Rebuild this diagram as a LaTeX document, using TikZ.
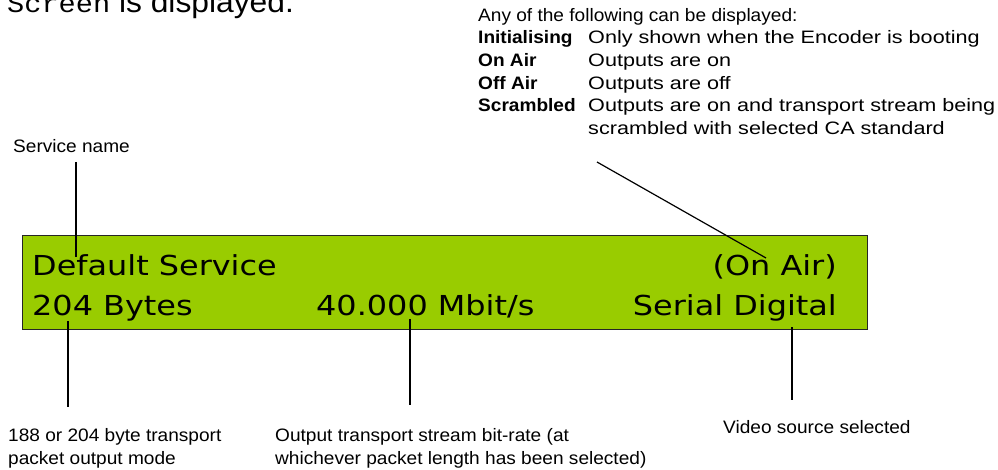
\documentclass[tikz,border=0pt]{standalone}
\usepackage{fontspec}
\setmainfont{Liberation Sans}[FakeStretch=1.06]
\newfontfamily\statefont{Liberation Sans}[FakeStretch=1.2]
\newfontfamily\lcdfont{DejaVu Sans}[FakeStretch=1.16]
\newfontfamily\codefont{Liberation Mono}[FakeStretch=1.1]
\usepackage{array}
\usepackage{xcolor}
\usepackage{tikz}
\usetikzlibrary{positioning}
\definecolor{lcdgreen}{RGB}{153,204,0}

\begin{document}
\begin{tikzpicture}[
  x=1pt, y=-1pt,
  font=\fontsize{18}{22.6}\selectfont,
  note/.style={inner sep=0pt, align=left, anchor=base west},
  screen/.style={draw=black!85, line width=1.2pt, fill=lcdgreen, inner sep=0pt,
                 minimum width=845pt, minimum height=94pt, anchor=north west},
  readout/.style={inner sep=0pt, font=\lcdfont\fontsize{27.5}{33}\selectfont},
  lead/.style={line width=1.2pt},
]
\useasboundingbox (0,0) rectangle (998,470);
\clip (0,0) rectangle (998,470);

\node[note, font=\fontsize{30}{34}\selectfont] (intro) at (7,13)
  {{\codefont\fontsize{26}{30}\selectfont Screen} is displayed.};

\node[note, anchor=north west] (states) at (478,5.2)
  {\begin{tabular}{@{}p{110pt}@{}>{\statefont}l@{}}
   \multicolumn{2}{@{}l@{}}{Any of the following can be displayed:}\\
   \textbf{Initialising} & Only shown when the Encoder is booting\\
   \textbf{On Air}       & Outputs are on\\
   \textbf{Off Air}      & Outputs are off\\
   \textbf{Scrambled}    & Outputs are on and transport stream being\\
                         & scrambled with selected CA standard
   \end{tabular}};

\node[note] (svcName) at (13,153) {Service name};

\node[screen] (lcd) at (22,235) {};
\node[readout, anchor=base west] (svcText)   at (32,276)  {Default Service};
\node[readout, anchor=base east] (airText)   at (837,276) {(On Air)};
\node[readout, anchor=base west] (bytesText) at (32,315)  {204 Bytes};
\node[readout, anchor=base west] (rateText)  at (316,315) {40.000 Mbit/s};
\node[readout, anchor=base east] (srcText)   at (837,315) {Serial Digital};

\node[note] (bytesNote) at (8,464)   {188 or 204 byte transport\\packet output mode};
\node[note] (rateNote)  at (275,464) {Output transport stream bit-rate (at\\whichever packet length has been selected)};
\node[note] (srcNote)   at (723,433) {Video source selected};

\coordinate (svcFoot)   at (76,162);
\coordinate (svcTip)    at (76,257);
\coordinate (stateFoot) at (597,162);
\coordinate (airTip)    at (766,258);
\coordinate (bytesTip)  at (68,321);
\coordinate (bytesFoot) at (68,407);
\coordinate (rateTip)   at (410,319);
\coordinate (rateFoot)  at (410,405);
\coordinate (srcTip)    at (792,327);
\coordinate (srcFoot)   at (792,400);

\draw[lead] (svcFoot)   -- (svcTip);
\draw[lead] (stateFoot) -- (airTip);
\draw[lead] (bytesTip)  -- (bytesFoot);
\draw[lead] (rateTip)   -- (rateFoot);
\draw[lead] (srcTip)    -- (srcFoot);

\end{tikzpicture}
\end{document}
